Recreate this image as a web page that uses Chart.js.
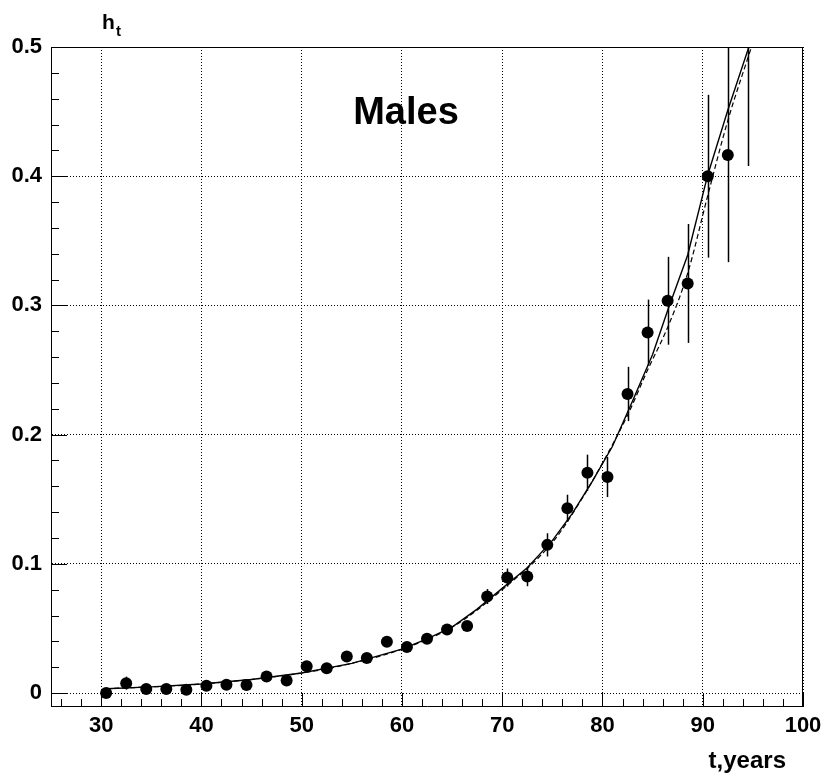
<!DOCTYPE html>
<html>
<head>
<meta charset="utf-8">
<script src="https://cdn.jsdelivr.net/npm/chart.js@4.4.1/dist/chart.umd.min.js"></script>
<style>
  html, body { margin: 0; padding: 0; background: #fff; }
  #wrap { width: 825px; height: 775px; position: relative; }
</style>
</head>
<body>
<div id="wrap"><canvas id="hazard"></canvas></div>
<script>
/* Male hazard rate by age: binned estimates with errors and two model curves */

const ages = [30.5, 32.5, 34.5, 36.5, 38.5, 40.5, 42.5, 44.5, 46.5, 48.5,
              50.5, 52.5, 54.5, 56.5, 58.5, 60.5, 62.5, 64.5, 66.5, 68.5,
              70.5, 72.5, 74.5, 76.5, 78.5, 80.5, 82.5, 84.5, 86.5, 88.5,
              90.5, 92.5, 94.5];
const rates = [0.0000, 0.0077, 0.0031, 0.0031, 0.0026, 0.0056, 0.0064, 0.0062, 0.0129, 0.0098,
               0.0208, 0.0193, 0.0283, 0.0271, 0.0397, 0.0356, 0.0420, 0.0492, 0.0520, 0.0747,
               0.0894, 0.0902, 0.1147, 0.1430, 0.1705, 0.1672, 0.2315, 0.2790, 0.3036, 0.3170,
               0.4000, 0.4165, 0.5100];
const rateErrs = [0.0015, 0.0050, 0.0020, 0.0020, 0.0020, 0.0025, 0.0025, 0.0025, 0.0030, 0.0030,
                  0.0030, 0.0030, 0.0032, 0.0032, 0.0034, 0.0034, 0.0035, 0.0036, 0.0038, 0.0058,
                  0.0070, 0.0075, 0.0090, 0.0105, 0.0140, 0.0155, 0.0210, 0.0255, 0.0340, 0.0460,
                  0.0630, 0.0830, 0.1020];

// model 1 (solid)
const fitAges = [30.5, 35, 40, 45, 50, 55, 60, 62.5, 65, 67.5, 70, 72.5, 75, 77, 79, 81, 83, 85,
                 86.5, 88.5, 90.5, 92.5, 94.6];
const fitRates = [0.0033, 0.0048, 0.0070, 0.0105, 0.0155, 0.0230, 0.0340, 0.0420, 0.0510, 0.0650,
                  0.0810, 0.0970, 0.1180, 0.1390, 0.1640, 0.1910, 0.2260, 0.2620,
                  0.2960, 0.3390, 0.4010, 0.4510, 0.5000];

// model 2 (dashed)
const altAges = [30.5, 40, 50, 55, 60, 65, 70, 75, 78, 80, 82.5, 84.5, 86.5, 88.5, 90.5, 92.5, 94.86];
const altRates = [0.0033, 0.0070, 0.0155, 0.0230, 0.0340, 0.0510, 0.0800, 0.1165, 0.1510, 0.1780,
                  0.2150, 0.2500, 0.2830, 0.3250, 0.3850, 0.4430, 0.5000];

const xTicks = [30, 40, 50, 60, 70, 80, 90, 100];
const yTicks = [0, 0.1, 0.2, 0.3, 0.4, 0.5];

const FONT = "'Liberation Sans', Arial, Helvetica, sans-serif";

const toXY = (xs, ys) => xs.map((x, i) => ({ x: x, y: ys[i] }));

// vertical error bars, no caps
const errorBars = {
  id: 'errorBars',
  afterDatasetsDraw(chart) {
    const { ctx, chartArea: a, scales: { x, y } } = chart;
    ctx.save();
    ctx.beginPath();
    ctx.rect(a.left, a.top, a.right - a.left, a.bottom - a.top);
    ctx.clip();
    ctx.strokeStyle = '#000';
    ctx.lineWidth = 1.5;
    ages.forEach((t, i) => {
      const px = Math.round(x.getPixelForValue(t)) + 0.5;
      ctx.beginPath();
      ctx.moveTo(px, y.getPixelForValue(rates[i] - rateErrs[i]));
      ctx.lineTo(px, y.getPixelForValue(rates[i] + rateErrs[i]));
      ctx.stroke();
    });
    ctx.restore();
  }
};

// frame, inward tick marks and text labels
const frameAndText = {
  id: 'frameAndText',
  afterDraw(chart) {
    const { ctx, chartArea: a, scales: { x, y } } = chart;
    ctx.save();
    ctx.strokeStyle = '#000';
    ctx.lineWidth = 1;
    ctx.beginPath();
    ctx.moveTo(a.left, a.top + 0.5);
    ctx.lineTo(a.right, a.top + 0.5);
    ctx.moveTo(a.right - 0.5, a.top);
    ctx.lineTo(a.right - 0.5, a.bottom);
    ctx.stroke();

    ctx.beginPath();
    for (let v = 26; v <= 100; v += 2) {
      const px = Math.round(x.getPixelForValue(v)) + 0.5;
      const len = v % 10 === 0 ? 13 : 7;
      ctx.moveTo(px, a.bottom);
      ctx.lineTo(px, a.bottom - len);
    }
    for (let k = 0; k <= 25; k++) {
      const py = Math.round(y.getPixelForValue(k * 0.02)) + 0.5;
      const len = k % 5 === 0 ? 16 : 8;
      ctx.moveTo(a.left, py);
      ctx.lineTo(a.left + len, py);
    }
    ctx.stroke();

    ctx.fillStyle = '#000';
    ctx.textBaseline = 'alphabetic';
    ctx.font = 'bold 38px ' + FONT;
    ctx.textAlign = 'center';
    ctx.fillText('Males', 406, 124);

    ctx.textAlign = 'left';
    ctx.font = 'bold 21px ' + FONT;
    ctx.fillText('h', 102, 29);
    ctx.font = 'bold 15px ' + FONT;
    ctx.fillText('t', 116, 36);

    ctx.textAlign = 'right';
    ctx.font = 'bold 24px ' + FONT;
    ctx.fillText('t,years', 786, 768);
    ctx.restore();
  }
};

new Chart(document.getElementById('hazard'), {
  type: 'scatter',
  data: {
    datasets: [
      {
        label: 'model 1',
        data: toXY(fitAges, fitRates),
        showLine: true,
        borderColor: '#000',
        borderWidth: 1.4,
        pointRadius: 0,
        tension: 0,
        order: 2
      },
      {
        label: 'model 2',
        data: toXY(altAges, altRates),
        showLine: true,
        borderColor: '#000',
        borderWidth: 1.2,
        borderDash: [5, 3],
        pointRadius: 0,
        cubicInterpolationMode: 'monotone',
        order: 3
      },
      {
        label: 'h_t',
        data: toXY(ages, rates),
        showLine: false,
        pointRadius: 6,
        pointBackgroundColor: '#000',
        pointBorderColor: '#000',
        pointBorderWidth: 0,
        order: 1
      }
    ]
  },
  options: {
    responsive: true,
    maintainAspectRatio: false,
    animation: false,
    layout: { padding: { top: 47, right: 22, bottom: 0, left: 0 } },
    plugins: { legend: { display: false }, tooltip: { enabled: false } },
    scales: {
      x: {
        type: 'linear',
        min: 25,
        max: 100,
        afterFit: s => { s.height = 69; s.paddingLeft = 0; s.paddingRight = 0; },
        afterBuildTicks: s => { s.ticks = xTicks.map(v => ({ value: v })); },
        ticks: {
          padding: 7,
          color: '#000',
          maxRotation: 0,
          font: { family: FONT, size: 22, weight: 'bold' },
          callback: v => String(v)
        },
        grid: { color: '#000', lineWidth: 1, drawTicks: false },
        border: { display: true, color: '#000', width: 1, dash: [1, 2] }
      },
      y: {
        type: 'linear',
        min: -0.01,
        max: 0.5,
        afterFit: s => { s.width = 51; s.paddingTop = 0; s.paddingBottom = 0; },
        afterBuildTicks: s => { s.ticks = yTicks.map(v => ({ value: v })); },
        ticks: {
          padding: 9,
          color: '#000',
          font: { family: FONT, size: 22, weight: 'bold' },
          callback: v => (v === 0 ? '0' : v.toFixed(1))
        },
        grid: { color: '#000', lineWidth: 1, drawTicks: false },
        border: { display: true, color: '#000', width: 1, dash: [1, 2] }
      }
    }
  },
  plugins: [errorBars, frameAndText]
});
</script>
</body>
</html>
